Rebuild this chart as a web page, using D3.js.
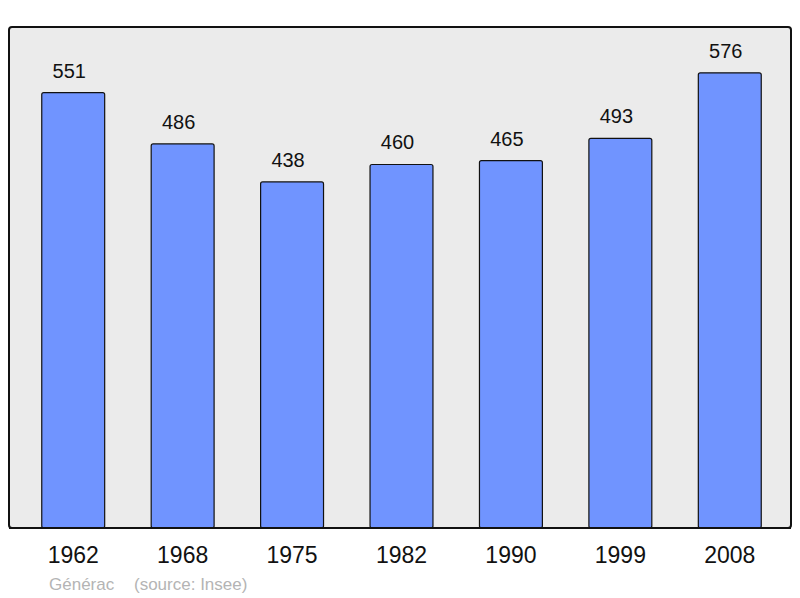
<!DOCTYPE html>
<html>
<head>
<meta charset="utf-8">
<script src="https://cdn.jsdelivr.net/npm/d3@7"></script>
<style>
  body { margin: 0; background: #fff; }
  text { font-family: "Liberation Sans", Arial, sans-serif; }
</style>
</head>
<body>
<div id="chart"></div>
<script>
// population data
const years = ["1962", "1968", "1975", "1982", "1990", "1999", "2008"];
const population = [551, 486, 438, 460, 465, 493, 576];
const commune = "Générac";
const sourceText = "(source: Insee)";

const width = 800, height = 598;
const frame = {left: 9, top: 27, right: 791, bottom: 528};

const svg = d3.select("#chart")
    .append("svg")
    .attr("width", width)
    .attr("height", height);

// background frame
svg.append("rect")
    .attr("x", frame.left)
    .attr("y", frame.top)
    .attr("width", frame.right - frame.left)
    .attr("height", frame.bottom - frame.top)
    .attr("rx", 3)
    .attr("fill", "#ebebeb")
    .attr("stroke", "#111")
    .attr("stroke-width", 2);

let xScale = d3.scaleBand()
    .domain(years)
    .range([18.5, 784.5])
    .paddingInner(0.425)
    .paddingOuter(0.2125);

let yScale = d3.scaleLinear()
    .domain([0, 634])
    .range([frame.bottom, frame.top]);

// bars
svg.selectAll("rect.bar")
    .data(population)
    .enter()
    .append("rect")
      .attr("class", "bar")
      .attr("x", (d, i) => xScale(years[i]))
      .attr("y", d => yScale(d))
      .attr("width", xScale.bandwidth())
      .attr("height", d => frame.bottom - yScale(d))
      .attr("rx", 2)
      .attr("fill", "#7094ff")
      .attr("stroke", "#111")
      .attr("stroke-width", 1.2);

// value labels
svg.selectAll("text.val")
    .data(population)
    .enter()
    .append("text")
      .attr("class", "val")
      .attr("x", (d, i) => xScale(years[i]) + xScale.bandwidth() / 2 - 4)
      .attr("y", d => yScale(d) - 15)
      .attr("text-anchor", "middle")
      .attr("font-size", "20px")
      .attr("fill", "#111")
      .text(d => d);

// bottom edge of the frame over the bars
svg.append("line")
    .attr("x1", frame.left).attr("x2", frame.right)
    .attr("y1", frame.bottom).attr("y2", frame.bottom)
    .attr("stroke", "#111")
    .attr("stroke-width", 2);

// year axis
const xAxis = svg.append("g")
    .attr("transform", `translate(0, ${frame.bottom})`)
    .call(d3.axisBottom(xScale).tickSize(0).tickPadding(19));
xAxis.select(".domain").remove();
xAxis.selectAll("text")
    .attr("font-size", "23px")
    .attr("fill", "#111")
    .style("font-family", "'Liberation Sans', Arial, sans-serif");

// footer
svg.append("text")
    .attr("x", 49)
    .attr("y", 590)
    .attr("font-size", "17px")
    .attr("fill", "#b4b4b4")
    .text(commune);
svg.append("text")
    .attr("x", 134)
    .attr("y", 590)
    .attr("font-size", "17px")
    .attr("fill", "#b4b4b4")
    .text(sourceText);
</script>
</body>
</html>
